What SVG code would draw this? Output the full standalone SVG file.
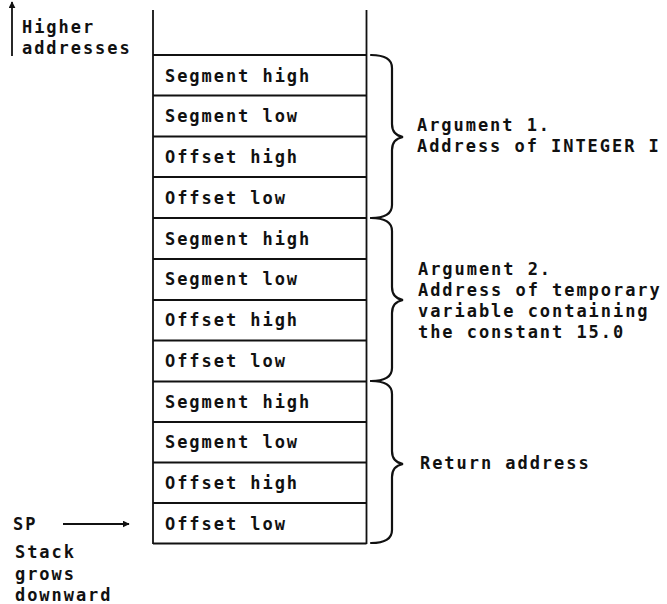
<svg xmlns="http://www.w3.org/2000/svg" width="667" height="604" viewBox="0 0 667 604">
  <style>
    text { font-family: "DejaVu Sans Mono", "Liberation Mono", monospace; font-size: 17px; font-weight: bold; letter-spacing: 1.95px; fill: #111; }
    .ln { stroke: #111; stroke-width: 1.8; fill: none; }
    .brace { stroke: #111; stroke-width: 2.2; fill: none; stroke-linecap: round; }
  </style>
  <defs>
    <marker id="arrow" viewBox="0 0 10 10" refX="9" refY="5" markerWidth="7" markerHeight="7" markerUnits="userSpaceOnUse" orient="auto">
      <path d="M0,0 L10,5 L0,10 z" fill="#111"/>
    </marker>
  </defs>
  <rect width="667" height="604" fill="#fff"/>

  <!-- stack column -->
  <g id="stack">
    <line class="ln" x1="153" y1="10" x2="153" y2="544"/>
    <line class="ln" x1="366.5" y1="10" x2="366.5" y2="544"/>
    <line class="ln" x1="153" y1="55" x2="366.5" y2="55"/>
    <line class="ln" x1="153" y1="95.5" x2="366.5" y2="95.5"/>
    <line class="ln" x1="153" y1="136.5" x2="366.5" y2="136.5"/>
    <line class="ln" x1="153" y1="177" x2="366.5" y2="177"/>
    <line class="ln" x1="153" y1="218" x2="366.5" y2="218"/>
    <line class="ln" x1="153" y1="259" x2="366.5" y2="259"/>
    <line class="ln" x1="153" y1="300" x2="366.5" y2="300"/>
    <line class="ln" x1="153" y1="340.5" x2="366.5" y2="340.5"/>
    <line class="ln" x1="153" y1="381.5" x2="366.5" y2="381.5"/>
    <line class="ln" x1="153" y1="422" x2="366.5" y2="422"/>
    <line class="ln" x1="153" y1="462.5" x2="366.5" y2="462.5"/>
    <line class="ln" x1="153" y1="503" x2="366.5" y2="503"/>
    <line class="ln" x1="153" y1="543.5" x2="366.5" y2="543.5"/>
  </g>

  <g id="cells">
    <text x="165" y="82">Segment high</text>
    <text x="165" y="122">Segment low</text>
    <text x="165" y="163">Offset high</text>
    <text x="165" y="204">Offset low</text>
    <text x="165" y="245">Segment high</text>
    <text x="165" y="285">Segment low</text>
    <text x="165" y="326">Offset high</text>
    <text x="165" y="367">Offset low</text>
    <text x="165" y="408">Segment high</text>
    <text x="165" y="448">Segment low</text>
    <text x="165" y="489">Offset high</text>
    <text x="165" y="530">Offset low</text>
  </g>

  <!-- braces grouping the words -->
  <g id="braces">
    <path class="brace" d="M371,55 Q392,55 392,68 L392,124 Q392,135 403,137 Q392,139 392,150 L392,205 Q392,218 371,218"/>
    <path class="brace" d="M371,218 Q392,218 392,231 L392,287 Q392,298 403,300 Q392,302 392,313 L392,368 Q392,381 371,381"/>
    <path class="brace" d="M371,381 Q392,381 392,394 L392,451 Q392,462 403,464 Q392,466 392,477 L392,530 Q392,543 371,543"/>
  </g>

  <g id="arg1">
    <text x="417" y="131">Argument 1.</text>
    <text x="417" y="152">Address of INTEGER I</text>
  </g>
  <g id="arg2">
    <text x="418" y="275">Argument 2.</text>
    <text x="418" y="296">Address of temporary</text>
    <text x="418" y="317">variable containing</text>
    <text x="418" y="338">the constant 15.0</text>
  </g>
  <g id="ret">
    <text x="420" y="469">Return address</text>
  </g>

  <g id="higher">
    <text x="22" y="33">Higher</text>
    <text x="22" y="54">addresses</text>
  </g>

  <g id="sp">
    <text x="13" y="530">SP</text>
    <text x="15" y="558">Stack</text>
    <text x="15" y="580">grows</text>
    <text x="15" y="601">downward</text>
  </g>

  <g id="connectors">
    <line class="ln" x1="12" y1="56" x2="12" y2="2" marker-end="url(#arrow)"/>
    <line class="ln" x1="63" y1="524" x2="129" y2="524" marker-end="url(#arrow)"/>
  </g>
</svg>
